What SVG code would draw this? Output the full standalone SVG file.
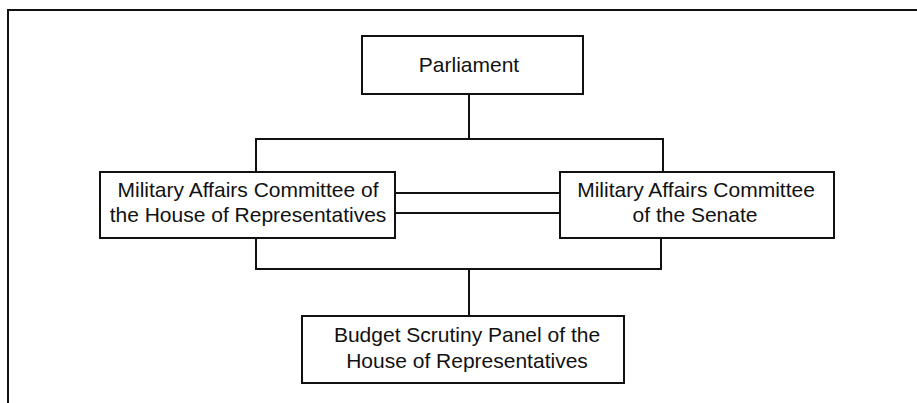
<svg xmlns="http://www.w3.org/2000/svg" width="917" height="403" viewBox="0 0 917 403">
<style>
.box{fill:#fff;stroke:#111;stroke-width:2}
.ln{fill:none;stroke:#111;stroke-width:2}
.t{font-family:"Liberation Sans",Arial,Helvetica,sans-serif;font-size:21px;fill:#111;text-anchor:middle}
</style>
<rect width="917" height="403" fill="#fff"/>
<path class="ln" d="M8,403 V10 H917"/>
<g id="connectors">
<path class="ln" d="M469,94 V139 M256,172 V139 H663 V172"/>
<path class="ln" d="M395,193 H560 M395,213 H560"/>
<path class="ln" d="M256,238 V269 H661 V238 M469,269 V316"/>
</g>
<g id="parliament">
<rect class="box" x="362" y="36" width="221" height="58"/>
<text class="t" x="469" y="72">Parliament</text>
</g>
<g id="house-committee">
<rect class="box" x="100" y="172" width="295" height="66"/>
<text class="t" x="248" y="197">Military Affairs Committee of</text>
<text class="t" x="248" y="222">the House of Representatives</text>
</g>
<g id="senate-committee">
<rect class="box" x="560" y="172" width="274" height="66"/>
<text class="t" x="696" y="197">Military Affairs Committee</text>
<text class="t" x="695" y="222">of the Senate</text>
</g>
<g id="budget-panel">
<rect class="box" x="302" y="316" width="322" height="67"/>
<text class="t" x="467" y="342">Budget Scrutiny Panel of the</text>
<text class="t" x="467" y="368">House of Representatives</text>
</g>
</svg>
